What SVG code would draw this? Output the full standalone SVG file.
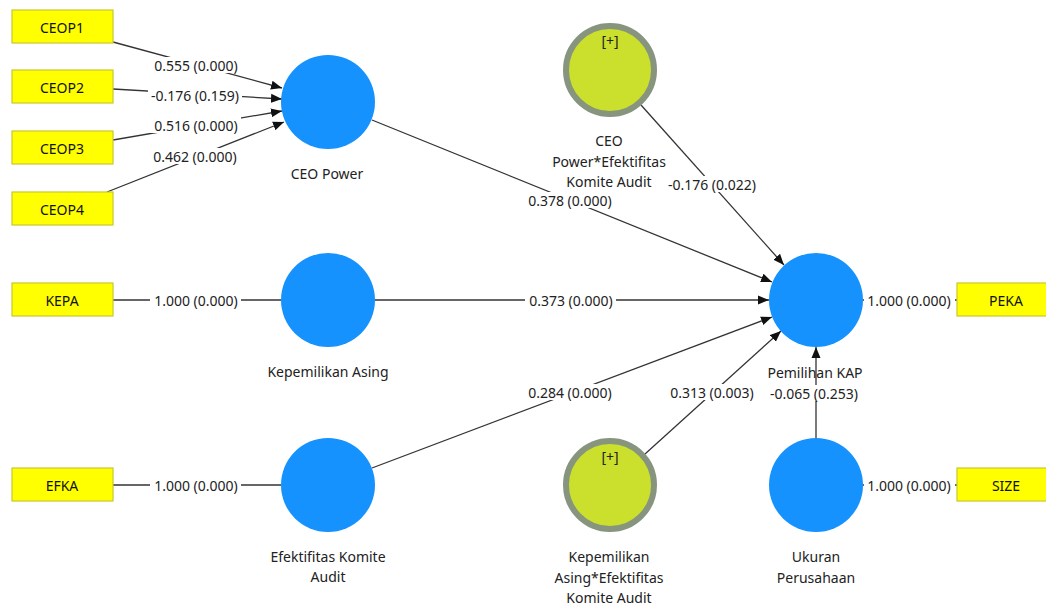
<svg xmlns="http://www.w3.org/2000/svg" width="1046" height="604" viewBox="0 0 1046 604">
<defs>
<marker id="arr" markerUnits="userSpaceOnUse" markerWidth="12" markerHeight="10" refX="11" refY="5" orient="auto">
<path d="M0,0.5 L11,5 L0,9.5 Z" fill="#111"/>
</marker>
</defs>
<style>
text{font-family:"Noto Sans","Open Sans","DejaVu Sans",sans-serif;font-size:14px;fill:#222;text-anchor:middle;dominant-baseline:central}
.ind rect{fill:#ffff00;stroke:#c9c92a;stroke-width:1.2}
.ind text{fill:#111}
.lv{fill:#1592fd}
.mod{fill:#cbe02c;stroke:#87957f;stroke-width:6}
.ln{stroke:#333;stroke-width:1.3;fill:none}
.ar{marker-end:url(#arr)}
.bg{fill:#fff}
</style>
<rect width="1046" height="604" fill="#fff"/>
<g id="connectors">
<line class="ln ar" x1="113" y1="42" x2="282" y2="88"/>
<line class="ln ar" x1="113" y1="89" x2="282" y2="99"/>
<line class="ln ar" x1="113" y1="140" x2="282" y2="111"/>
<line class="ln ar" x1="107" y1="192" x2="284" y2="122"/>
<line class="ln" x1="113" y1="300" x2="281" y2="300"/>
<line class="ln" x1="113" y1="485" x2="281" y2="485"/>
<line class="ln" x1="863" y1="300" x2="957" y2="300"/>
<line class="ln" x1="863" y1="485" x2="957" y2="485"/>
<line class="ln ar" x1="372" y1="120" x2="772" y2="282"/>
<line class="ln ar" x1="375" y1="300" x2="769" y2="300"/>
<line class="ln ar" x1="372" y1="468" x2="772" y2="317"/>
<line class="ln ar" x1="641" y1="105" x2="784" y2="265"/>
<line class="ln ar" x1="645" y1="454" x2="781" y2="331"/>
<line class="ln ar" x1="816" y1="438" x2="816" y2="347"/>
<rect class="bg" x="150" y="57" width="91" height="16"/>
<text x="196" y="65">0.555 (0.000)</text>
<rect class="bg" x="148" y="87" width="94" height="16"/>
<text x="195" y="95">-0.176 (0.159)</text>
<rect class="bg" x="150" y="117" width="91" height="16"/>
<text x="196" y="125">0.516 (0.000)</text>
<rect class="bg" x="150" y="148" width="91" height="16"/>
<text x="195" y="156">0.462 (0.000)</text>
<rect class="bg" x="150" y="292" width="91" height="16"/>
<text x="196" y="300">1.000 (0.000)</text>
<rect class="bg" x="150" y="477" width="91" height="16"/>
<text x="196" y="485">1.000 (0.000)</text>
<rect class="bg" x="864" y="292" width="91" height="16"/>
<text x="909" y="300">1.000 (0.000)</text>
<rect class="bg" x="864" y="477" width="91" height="16"/>
<text x="909" y="485">1.000 (0.000)</text>
<rect class="bg" x="525" y="192" width="91" height="16"/>
<text x="570" y="200">0.378 (0.000)</text>
<rect class="bg" x="525" y="292" width="91" height="16"/>
<text x="571" y="300">0.373 (0.000)</text>
<rect class="bg" x="525" y="384" width="91" height="16"/>
<text x="570" y="392">0.284 (0.000)</text>
<rect class="bg" x="665" y="176" width="94" height="16"/>
<text x="712" y="184">-0.176 (0.022)</text>
<rect class="bg" x="666" y="384" width="91" height="16"/>
<text x="712" y="392">0.313 (0.003)</text>
<rect class="bg" x="767" y="385" width="94" height="16"/>
<text x="814" y="393">-0.065 (0.253)</text>
</g>
<g id="CEOP1" class="ind"><rect x="12" y="10" width="101" height="33"/><text x="62" y="27">CEOP1</text></g>
<g id="CEOP2" class="ind"><rect x="12" y="70" width="101" height="33"/><text x="62" y="87">CEOP2</text></g>
<g id="CEOP3" class="ind"><rect x="12" y="131" width="101" height="33"/><text x="62" y="148">CEOP3</text></g>
<g id="CEOP4" class="ind"><rect x="12" y="192" width="101" height="33"/><text x="62" y="209">CEOP4</text></g>
<g id="KEPA" class="ind"><rect x="12" y="283" width="101" height="33"/><text x="62" y="300">KEPA</text></g>
<g id="EFKA" class="ind"><rect x="12" y="468" width="101" height="33"/><text x="62" y="485">EFKA</text></g>
<g id="PEKA" class="ind"><rect x="957" y="283" width="101" height="33"/><text x="1006" y="300">PEKA</text></g>
<g id="SIZE" class="ind"><rect x="957" y="468" width="101" height="33"/><text x="1006" y="485">SIZE</text></g>
<g id="CEOPower"><circle class="lv" cx="328" cy="102" r="47"/><text x="327" y="173">CEO Power</text></g>
<g id="KepemilikanAsing"><circle class="lv" cx="328" cy="300" r="47"/><text x="328" y="371">Kepemilikan Asing</text></g>
<g id="Efektifitas"><circle class="lv" cx="328" cy="485" r="47"/><text x="328" y="556">Efektifitas Komite</text><text x="328" y="576">Audit</text></g>
<g id="ModCEO"><circle class="mod" cx="610" cy="70" r="44"/><text x="610" y="40">[+]</text><text x="609" y="140">CEO</text><text x="609" y="161">Power*Efektifitas</text><text x="609" y="181">Komite Audit</text></g>
<g id="PemilihanKAP"><circle class="lv" cx="816" cy="300" r="47"/><text x="815" y="372">Pemilihan KAP</text></g>
<g id="ModKep"><circle class="mod" cx="610" cy="485" r="44"/><text x="610" y="456">[+]</text><text x="609" y="556">Kepemilikan</text><text x="609" y="577">Asing*Efektifitas</text><text x="609" y="597">Komite Audit</text></g>
<g id="Ukuran"><circle class="lv" cx="816" cy="485" r="47"/><text x="816" y="556">Ukuran</text><text x="816" y="577">Perusahaan</text></g>
</svg>
